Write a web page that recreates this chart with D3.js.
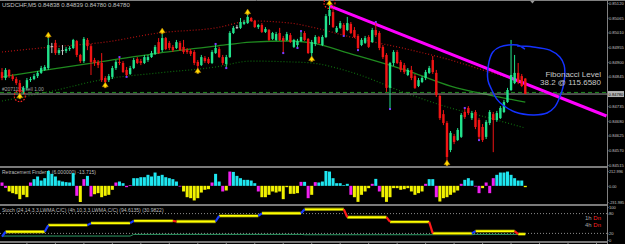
<!DOCTYPE html>
<html>
<head>
<meta charset="utf-8">
<script src="https://cdn.jsdelivr.net/npm/d3@7"></script>
<style>
body { margin:0; background:#000; }
svg { display:block; }
text { font-family: "Liberation Sans", "DejaVu Sans", sans-serif; }
.ax path { display:none; }
.ax line { stroke:#808080; }
.ax text { fill:#c4c4c4; font-size:4.1px; }
.ax.rfax text { font-size:3.9px; }
</style>
</head>
<body>
<div id="chart"></div>
<script>
// USDCHF M5, prices in points (1e-5)
var open = [84862,84840,84870,84847,84836,84821,84788,84803,84832,84836,
  84847,84859,84870,84877,84959,84971,84933,84944,84941,84948,
  84952,84978,84926,84903,84982,84959,84907,84900,84896,84840,
  84832,84844,84877,84900,84896,84870,84855,84877,84911,84903,
  84896,84907,84918,84930,84974,84944,84989,84971,84956,84952,
  84971,84956,84944,84941,84937,84900,84888,84915,84911,84896,
  84933,84948,84918,84892,84918,85008,85030,85027,85042,85045,
  85064,85053,85030,85038,85012,85019,84986,84982,85008,84989,
  84982,85000,84956,84963,84978,85008,84986,84933,84967,84993,
  84963,84993,85071,85086,85012,85027,85038,85019,85042,85019,
  84997,84963,84971,84993,84974,85019,85008,84956,84926,84803,
  84896,84937,84900,84888,84851,84870,84847,84810,84825,84840,
  84859,84907,84859,84773,84705,84672,84571,84623,84608,84620,
  84713,84728,84690,84713,84683,84657,84620,84672,84705,84683,
  84690,84713,84750,84795,84821,84859,84847,84838];
var high = [84877,84877,84873,84855,84844,84832,84810,84840,84844,84855,
  84866,84885,84888,84989,84971,84982,84952,84963,84956,84959,
  84986,84982,84930,84993,84989,84967,84915,84907,84933,84847,
  84855,84885,84907,84918,84903,84881,84885,84915,84918,84911,
  84926,84926,84941,84963,84989,85004,84993,84978,84963,84982,
  84978,84982,84952,84948,84944,84907,84926,84922,84918,84944,
  84967,84956,84926,84926,85015,85034,85038,85064,85057,85075,
  85068,85057,85042,85045,85030,85023,85012,85012,85027,84997,
  85012,85008,84986,84986,85015,85015,84989,84982,85000,84997,
  85000,85079,85109,85098,85034,85053,85045,85068,85049,85030,
  85004,84989,84997,85000,85027,85049,85015,84963,84933,84900,
  84944,84944,84907,84896,84877,84885,84855,84840,84847,84870,
  84885,84922,84870,84780,84720,84679,84642,84631,84653,84709,
  84728,84735,84717,84720,84690,84668,84683,84720,84713,84717,
  84735,84758,84803,84982,84926,84896,84855,84839];
var low = [84832,84832,84840,84829,84814,84776,84780,84795,84825,84832,
  84840,84855,84866,84870,84933,84926,84926,84926,84933,84941,
  84948,84918,84896,84896,84944,84851,84885,84877,84825,84817,
  84825,84836,84870,84888,84859,84844,84851,84873,84892,84888,
  84892,84900,84915,84926,84930,84937,84944,84944,84937,84948,
  84941,84930,84930,84922,84888,84870,84885,84896,84892,84892,
  84930,84915,84888,84877,84915,85004,85023,85023,85038,85042,
  85049,85027,85023,85008,85008,84978,84982,84978,84978,84933,
  84978,84971,84952,84952,84974,84978,84930,84915,84959,84967,
  84959,84989,85038,85027,85008,85023,84997,85015,85004,84989,
  84944,84959,84967,84952,84971,84993,84944,84911,84788,84724,
  84885,84892,84862,84855,84847,84832,84799,84806,84821,84832,
  84855,84855,84769,84683,84664,84526,84563,84593,84605,84616,
  84687,84702,84683,84649,84608,84601,84612,84664,84563,84676,
  84687,84709,84747,84791,84817,84817,84806,84780];
var close = [84840,84870,84847,84836,84821,84788,84803,84832,84836,84847,
  84859,84877,84881,84963,84956,84933,84944,84941,84948,84952,
  84982,84926,84903,84986,84959,84900,84896,84888,84832,84825,
  84847,84877,84900,84896,84862,84851,84877,84907,84896,84896,
  84918,84918,84933,84956,84933,84989,84948,84952,84944,84974,
  84944,84937,84937,84930,84896,84885,84918,84903,84896,84937,
  84952,84918,84896,84918,85008,85027,85029,85049,85049,85068,
  85053,85030,85038,85012,85023,84982,85008,85004,84982,84978,
  85004,84974,84982,84978,84993,84982,84933,84974,84993,84971,
  84993,85071,85094,85030,85027,85045,85000,85045,85008,84993,
  84952,84982,84989,84956,85019,85000,84952,84918,84803,84896,
  84937,84896,84870,84862,84870,84840,84803,84832,84840,84862,
  84877,84862,84776,84690,84672,84545,84635,84601,84646,84702,
  84694,84709,84709,84657,84620,84608,84676,84713,84683,84709,
  84728,84750,84795,84851,84859,84825,84810,84780];

// moving average envelope, sampled at bars
var maBars  = [0,14,29,44,60,70,81,87,98,115,126,137,147];
var maUpper = [84937,84956,84974,85008,85027,85053,85045,85030,84993,84944,84907,84862,84825];
var maMid   = [84844,84873,84903,84933,84959,84974,84978,84971,84930,84862,84810,84776,84750];
var maLower = [84754,84791,84836,84859,84881,84903,84900,84896,84862,84776,84728,84690,84653];

var fractalUp = [13,45,69,92];
var fractalDn = [5,29,55,87,125];
var ringed = [5,92];

var sigBars   = [33,35,60,63,79,83,84,96,100,105,109,130,134];
var sigPrices = [84918,84844,84967,84877,84933,84952,85015,84997,84944,85049,84724,84728,84608];

var trendBars = [92,145];
var trendPrices = [85109,84829];

var circleBars = [146.9,144.7,139.9,137.9,136.8,136.5,137.6,139.0,140.7,144.1,149.2,153.1,155.3,156.7,157.6,158.1,157.9,156.7,153.9,149.2,144.7];
var circlePrices = [84948,84963,84956,84937,84900,84832,84795,84761,84739,84713,84702,84709,84732,84769,84806,84851,84888,84918,84944,84956,84959];

var bidPrice = 84780;
var orderPrice = 84786;
var priceTicks = [85120,85065,85010,84955,84900,84845,84735,84680,84625,84570,84515];

// Retracement Finder histogram
var rf = [48,-29,-81,-105,-120,-191,-129,-163,48,96,
  134,76,110,213,172,134,76,62,53,48,
  182,-143,-232,96,143,-153,-120,-105,-163,-143,
  -129,-57,48,62,38,-19,10,110,110,124,
  124,158,134,191,143,158,124,110,96,62,
  -10,-81,-163,-177,-210,-177,-96,-57,-48,48,
  172,62,-81,-67,205,200,143,110,86,86,
  76,38,-81,-163,-163,-129,-81,-96,-81,-191,
  -19,-115,-115,-105,57,57,-177,-129,53,48,
  62,213,205,110,38,38,10,29,-129,-163,
  -230,-129,-81,-33,29,100,-81,-163,-230,-163,
  -33,-33,-57,-48,-33,-81,-129,-105,-81,29,
  96,96,-163,-225,-177,-163,-129,-96,-67,29,
  86,110,76,-10,-105,-33,48,-105,110,158,
  191,191,205,158,110,76,76,-19];
var rfTurn = [0,1,8,21,23,25,32,35,36,50,59,62,64,72,84,86,88,98,104,106,119,122,129,133,134,136,137,138];
var rfTicks = [212.996,0,-231.985];

// MTF stochastic, value per hour block
var stH1Start = [0,1,13,25,37,49,61,73,85,97,109,121,133,145];
var stH1 = [10,25,45,51,58,56,73,81,93,69,55,20,27,18];
var stH4Start = [0,37,85,133];
var stH4 = [12,17,16,17];
var stTicks = [100,80,20,0];

var W = 625, H = 244, AX = 607.5;
var lastBar = open.length - 1;

var svg = d3.select("#chart").append("svg")
  .attr("width", W).attr("height", H)
  .style("background", "#000");

var x = d3.scaleLinear().domain([0, 147]).range([2, 525.3]);
var yP = d3.scaleLinear().domain([84515, 85120]).range([165, 3]);
var yRF = d3.scaleLinear().domain([-231.985, 212.996]).range([202, 171]);
var yST = d3.scaleLinear().domain([0, 100]).range([240, 207]);

// frame
svg.append("line").attr("x1",0).attr("x2",W).attr("y1",0.5).attr("y2",0.5).style("stroke","#808080");
[167, 205, 242].forEach(function(y){
  svg.append("line").attr("x1",0).attr("x2",AX).attr("y1",y).attr("y2",y)
    .style("stroke","#7a7a7a").style("stroke-width",2);
});
svg.append("line").attr("x1",AX).attr("x2",AX).attr("y1",0).attr("y2",H).style("stroke","#808080");

// time ticks
svg.selectAll(".tt").data(d3.range(7, 170, 8)).enter().append("line")
  .attr("x1", d => x(d)).attr("x2", d => x(d)).attr("y1", 242).attr("y2", 244)
  .style("stroke", "#808080");

// header
svg.append("text").attr("x",2).attr("y",7).style("font-size","6px").style("fill","#c0c0c0")
  .text("USDCHF,M5  0.84838 0.84839 0.84780 0.84780");

// envelope lines
var maLine = d3.line().x((d,k) => x(maBars[k])).y(d => yP(d)).curve(d3.curveMonotoneX);
svg.append("path").attr("d", maLine(maUpper)).style("fill","none").style("stroke","#b01010")
  .style("stroke-width",1.2).style("stroke-dasharray","1,2");
svg.append("path").attr("d", maLine(maMid)).style("fill","none").style("stroke","#1f8a1f")
  .style("stroke-width",1.3);
svg.append("path").attr("d", maLine(maLower)).style("fill","none").style("stroke","#0d6a0d")
  .style("stroke-width",1.2).style("stroke-dasharray","1,2");

// order + bid lines
svg.append("line").attr("x1",0).attr("x2",AX).attr("y1",yP(orderPrice)).attr("y2",yP(orderPrice))
  .style("stroke","#1d8a1d").style("stroke-dasharray","4,3");
svg.append("line").attr("x1",0).attr("x2",AX).attr("y1",yP(bidPrice)).attr("y2",yP(bidPrice))
  .style("stroke","#9a9a9a");
svg.append("text").attr("x",2).attr("y",yP(orderPrice)-1.5).style("font-size","5px").style("fill","#a0a0a0")
  .text("#2071153 sell 1.00");

// trend line, extended to the axis
var tSlope = (trendPrices[1]-trendPrices[0])/(trendBars[1]-trendBars[0]);
var tEndBar = x.invert(AX - 1);
svg.append("line")
  .attr("x1", x(trendBars[0])).attr("y1", yP(trendPrices[0]))
  .attr("x2", x(tEndBar)).attr("y2", yP(trendPrices[0] + tSlope*(tEndBar-trendBars[0])))
  .style("stroke","#ff00ff").style("stroke-width",3);

// candles
var bull = "#22e38c", bear = "#f01414", doji = "#c8c8c8";
function cColor(i){
  if (Math.abs(close[i]-open[i]) <= 3) return doji;
  return close[i] > open[i] ? bull : bear;
}
var cg = svg.selectAll(".candle").data(d3.range(open.length)).enter().append("g");
cg.append("line")
  .attr("x1", i => x(i)).attr("x2", i => x(i))
  .attr("y1", i => yP(high[i])).attr("y2", i => yP(low[i]))
  .style("stroke", cColor).style("stroke-width", 1);
cg.append("rect")
  .attr("x", i => x(i)-1.2).attr("width", 2.4)
  .attr("y", i => yP(Math.max(open[i], close[i])))
  .attr("height", i => Math.max(1, Math.abs(yP(open[i]) - yP(close[i]))))
  .style("fill", cColor);

// signal dots
svg.selectAll(".sig").data(sigBars).enter().append("rect")
  .attr("x", (d) => x(d)-1).attr("y", (d,k) => yP(sigPrices[k])-1)
  .attr("width", 2).attr("height", 2).style("fill", "#7a3cff");

// fractals
var arrow = "M0,-3 L3,1.6 L1,1.6 L1,2.6 L-1,2.6 L-1,1.6 L-3,1.6 Z";
function fy(i){ return fractalUp.indexOf(i) >= 0 ? yP(high[i]) - 3 : yP(low[i]) + 1; }
svg.selectAll(".fr").data(fractalUp.concat(fractalDn)).enter().append("path")
  .attr("d", arrow)
  .attr("transform", i => "translate(" + x(i) + "," + fy(i) + ")")
  .style("fill", "#ffd800").style("stroke", "#b07800").style("stroke-width", 0.5);
svg.selectAll(".ring").data(ringed).enter().append("circle")
  .attr("cx", i => x(i)).attr("cy", fy).attr("r", 5.5)
  .style("fill","none").style("stroke","#ff2020").style("stroke-width",1.2)
  .style("stroke-dasharray","1.5,1.5");

// hand drawn circle + fib note
var circ = d3.line().x(d => x(d)).y((d,k) => yP(circlePrices[k])).curve(d3.curveCatmullRom.alpha(0.5));
svg.append("path").attr("d", circ(circleBars)).style("fill","none")
  .style("stroke","#1432ff").style("stroke-width",1.5);
svg.append("text").attr("x",601).attr("y",77).attr("text-anchor","end")
  .style("font-size","8px").style("fill","#c8c8c8").text("Fibonacci Level");
svg.append("text").attr("x",601).attr("y",84.5).attr("text-anchor","end")
  .style("font-size","8px").style("fill","#c8c8c8").text("38.2 @ 115.6580");

// price axis
svg.append("g").attr("class","ax").attr("transform","translate(" + AX + ",0)")
  .call(d3.axisRight(yP).tickValues(priceTicks).tickSize(1).tickPadding(0.4)
    .tickFormat(d => (d/1e5).toFixed(5)));
svg.append("rect").attr("x",AX+0.5).attr("y",yP(bidPrice)-3).attr("width",16).attr("height",6)
  .style("fill","#b4b4b4");
svg.append("text").attr("x",AX+1).attr("y",yP(bidPrice)+1.5)
  .style("font-size","4.1px").style("fill","#000").text((bidPrice/1e5).toFixed(5));
svg.append("path").attr("d","M-2.5,0 L2.5,0 L0,3 Z").attr("transform","translate(" + x(149) + ",0.5)")
  .style("fill","#9a9a9a");

// Retracement Finder
svg.append("text").attr("x",2).attr("y",174).style("font-size","5px").style("fill","#bdbdbd")
  .text("Retracement Finder 1 (6.000000) -13.715)");
function rfColor(i){
  if (rfTurn.indexOf(i) >= 0) return "#f020f0";
  return rf[i] >= 0 ? "#1ee6f0" : "#f2f200";
}
svg.selectAll(".rf").data(d3.range(rf.length)).enter().append("rect")
  .attr("x", i => x(i)-1.5).attr("width", 3)
  .attr("y", i => Math.min(yRF(rf[i]), yRF(0)))
  .attr("height", i => Math.abs(yRF(rf[i]) - yRF(0)))
  .style("fill", rfColor);
svg.append("g").attr("class","ax rfax").attr("transform","translate(" + AX + ",0)")
  .call(d3.axisRight(yRF).tickValues(rfTicks).tickSize(1).tickPadding(0.4)
    .tickFormat(d => d === 0 ? "0.00" : d.toFixed(3)));

// Stochastic
svg.append("text").attr("x",2).attr("y",212).style("font-size","5px").style("fill","#bdbdbd")
  .text("Stoch (24,14,3,3,LWMA,C/C) (4h,10,3,3,LWMA,C/C) (94.6135) (30.9822)");
[80, 20].forEach(function(v){
  svg.append("line").attr("x1",0).attr("x2",AX).attr("y1",yST(v)).attr("y2",yST(v))
    .style("stroke","#8a8a8a").style("stroke-dasharray","1,2");
});
function blocks(starts, vals){
  var flats = [], moves = [];
  vals.forEach(function(v, k){
    var a = starts[k], b = k+1 < starts.length ? starts[k+1]-1 : lastBar;
    flats.push([[a, v], [b, v]]);
    if (k+1 < vals.length) moves.push({pts: [[b, v], [starts[k+1], vals[k+1]]], up: vals[k+1] > v});
  });
  return {flats: flats, moves: moves};
}
var sl = d3.line().x(d => x(d[0])).y(d => yST(d[1]));
var h4 = blocks(stH4Start, stH4);
h4.flats.concat(h4.moves.map(m => m.pts)).forEach(function(p){
  svg.append("path").attr("d", sl(p)).style("fill","none").style("stroke","#2e9a66").style("stroke-width",1);
});
var h1 = blocks(stH1Start, stH1);
h1.flats.forEach(function(p){
  svg.append("path").attr("d", sl(p)).style("fill","none").style("stroke","#6b6b00").style("stroke-width",3.4);
  svg.append("path").attr("d", sl(p)).style("fill","none").style("stroke","#ffff00").style("stroke-width",1.8);
});
h1.moves.forEach(function(m){
  svg.append("path").attr("d", sl(m.pts)).style("fill","none")
    .style("stroke", m.up ? "#1a3cff" : "#ff1a1a").style("stroke-width",2.2);
});
svg.append("g").attr("class","ax").attr("transform","translate(" + AX + ",0)")
  .call(d3.axisRight(yST).tickValues(stTicks).tickSize(1).tickPadding(0.4));

var tf = [["1h", 220], ["4h", 227]];
tf.forEach(function(t){
  var tx = svg.append("text").attr("x",601).attr("y",t[1]).attr("text-anchor","end").style("font-size","6px");
  tx.append("tspan").style("fill","#a0a0a0").text(t[0] + " ");
  tx.append("tspan").style("fill","#ff2020").text("Dn");
});
</script>
</body>
</html>
